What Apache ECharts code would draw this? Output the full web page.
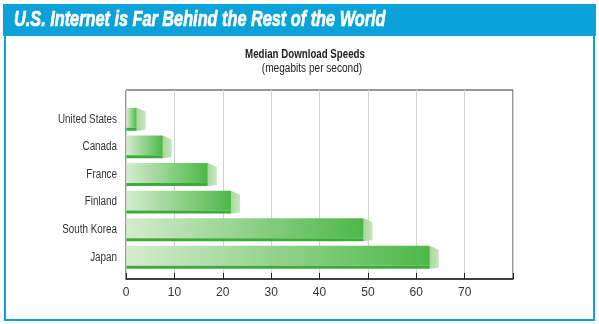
<!DOCTYPE html>
<html>
<head>
<meta charset="utf-8">
<script src="https://cdn.jsdelivr.net/npm/echarts@6/dist/echarts.min.js"></script>
<style>
html,body{margin:0;padding:0;background:#fff;}
#chart{width:599px;height:324px;}
</style>
</head>
<body>
<div id="chart"></div>
<script>
const titleText = 'U.S. Internet is Far Behind the Rest of the World';
const subTitle = 'Median Download Speeds';
const subTitle2 = '(megabits per second)';
const countries = ['United States', 'Canada', 'France', 'Finland', 'South Korea', 'Japan'];
const speeds = [2.2, 7.6, 16.9, 21.7, 49.1, 62.8];
const xTickValues = [0, 10, 20, 30, 40, 50, 60, 70];

const BLUE = '#0aa2d8';
const FONT = '"Liberation Sans", Arial, sans-serif';

const chart = echarts.init(document.getElementById('chart'), null, {renderer: 'canvas'});

function txt(s, x, y, size, weight, style, color, align, sx, extra) {
  return Object.assign({
    type: 'text', x: x, y: y, scaleX: sx, z: 10,
    style: {text: s, x: 0, y: 0, fill: color,
      font: style + ' ' + weight + ' ' + size + 'px ' + FONT,
      align: align, verticalAlign: 'middle', textAlign: align, textVerticalAlign: 'middle'}
  }, extra || {});
}

const option = {
  animation: false,
  backgroundColor: '#fff',
  graphic: [
    {type: 'rect', z: -1, shape: {x: 3, y: 4, width: 593, height: 32}, style: {fill: BLUE}},
    {type: 'rect', z: -1, shape: {x: 5, y: 34, width: 589, height: 286}, style: {fill: 'none', stroke: BLUE, lineWidth: 2}},
    (function () { const t = txt(titleText, 14, 20, 22, 'bold', 'italic', '#fff', 'left', 0.74);
      t.style.stroke = '#fff'; t.style.lineWidth = 0.7; return t; })(),
    txt(subTitle, 305, 55, 12, 'bold', 'normal', '#222', 'center', 0.81),
    txt(subTitle2, 312, 69, 12, 'normal', 'normal', '#222', 'center', 0.84)
  ],
  grid: [
    {left: 126, top: 90, width: 387, height: 189, show: true, borderColor: '#333', borderWidth: 1, backgroundColor: 'transparent'},
    {left: 126, top: 105.5, width: 387, height: 165.6}
  ],
  xAxis: [
    {gridIndex: 0, type: 'value', min: 0, max: 80, interval: 10,
     axisLine: {show: true, lineStyle: {color: '#222', width: 1.5}},
     axisTick: {show: true, inside: true, length: 6, lineStyle: {color: '#222'}},
     splitLine: {show: true, lineStyle: {color: '#d0d0d0', width: 1}},
     axisLabel: {color: '#333', fontFamily: FONT, fontSize: 12, margin: 8,
       formatter: v => (xTickValues.indexOf(v) >= 0 ? String(v) : '')}},
    {gridIndex: 1, type: 'value', min: 0, max: 80, show: false}
  ],
  yAxis: [
    {gridIndex: 0, type: 'value', show: false, min: 0, max: 1},
    {gridIndex: 1, type: 'category', data: countries, inverse: true,
     axisLine: {show: false}, axisTick: {show: false}, splitLine: {show: false},
     axisLabel: {show: false}}
  ],
  series: [{
    type: 'custom',
    xAxisIndex: 1, yAxisIndex: 1,
    clip: false,
    data: speeds.map((v, i) => [v, i]),
    encode: {x: 0, y: 1},
    renderItem: function (params, api) {
      const v = api.value(0), idx = api.value(1);
      const p0 = api.coord([0, idx]);
      const p1 = api.coord([v, idx]);
      const band = api.size([0, 1])[1];
      const h = band * 0.83;
      const top = p0[1] - h / 2, bottom = p0[1] + h / 2;
      const x0 = p0[0] + 0.5, x1 = p1[0];
      const capW = 9, slope = 4, strip = 3;
      return {
        type: 'group',
        children: [
          txt(countries[idx], p0[0] - 9, p0[1], 12, 'normal', 'normal', '#333', 'right', 0.82),
          {type: 'polygon',
           shape: {points: [[x1, top], [x1 + capW, top + slope], [x1 + capW, bottom - 1], [x1, bottom]]},
           style: {fill: new echarts.graphic.LinearGradient(0, 0, 1, 0, [
             {offset: 0, color: '#a9d79e'}, {offset: 1, color: '#c9e6c0'}])}},
          {type: 'rect', shape: {x: x0, y: top, width: x1 - x0, height: h - strip},
           style: {fill: new echarts.graphic.LinearGradient(0, 0, 1, 0, [
             {offset: 0, color: '#d5ecce'}, {offset: 1, color: '#4db848'}])}},
          {type: 'rect', shape: {x: x0, y: bottom - strip, width: x1 - x0, height: strip},
           style: {fill: '#3eaa3b'}}
        ]
      };
    }
  }]
};
chart.setOption(option);
</script>
</body>
</html>
